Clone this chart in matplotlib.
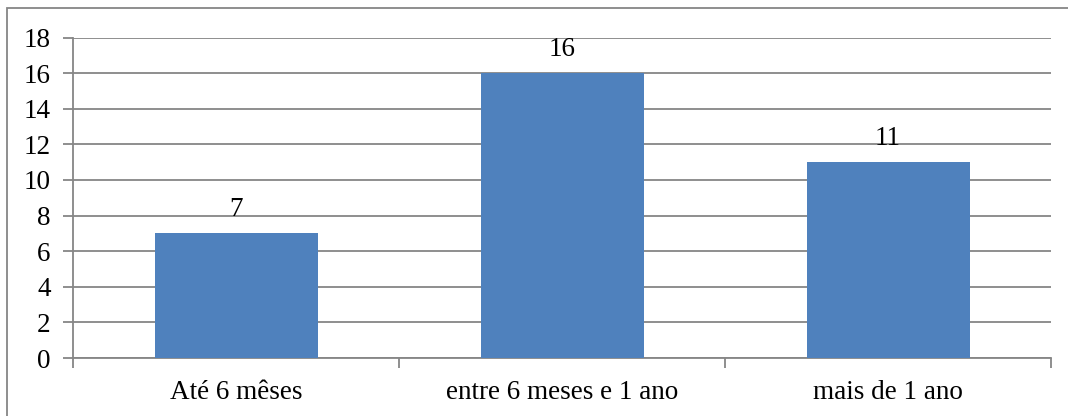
import matplotlib
matplotlib.use("Agg")
import matplotlib.pyplot as plt
from matplotlib.patches import Rectangle

categories = ["Até 6 mêses", "entre 6 meses e 1 ano", "mais de 1 ano"]
values = [7, 16, 11]
yticks = [0, 2, 4, 6, 8, 10, 12, 14, 16, 18]

W, H, DPI = 1068, 416, 100
FS = 19.5
plt.rcParams["font.family"] = ["Liberation Serif", "DejaVu Serif"]

fig = plt.figure(figsize=(W / DPI, H / DPI), dpi=DPI)
grey = "#868686"

# outer chart frame (open on the right and bottom)
fig.patches.append(Rectangle((6.5 / W, -0.1), 1.2, 1 - 7.5 / H + 0.1,
                             transform=fig.transFigure, fill=False,
                             edgecolor=grey, linewidth=1.3))

ax = fig.add_axes([73 / W, (H - 358) / H, (1051 - 73) / W, (358 - 37.5) / H])
x = range(len(categories))
ax.bar(x, values, width=0.5, color="#4F81BD", zorder=3)
for xi, v in zip(x, values):
    ax.annotate(str(v), (xi, v), xytext=(0, 8), textcoords="offset points",
                ha="center", va="bottom", fontsize=FS)

ax.set_xlim(-0.5, len(categories) - 0.5)
ax.set_ylim(0, 18)
ax.set_yticks(yticks)
ax.set_yticklabels([str(t) for t in yticks], fontsize=FS)
ax.yaxis.grid(True, color=grey, linewidth=1.3, zorder=0)
ax.tick_params(axis="y", length=7, width=1.3, color=grey, pad=9)

# category labels centred, ticks at category boundaries
ax.set_xticks([i - 0.5 for i in range(len(categories) + 1)])
ax.set_xticklabels([])
ax.set_xticks(list(x), minor=True)
ax.set_xticklabels(categories, minor=True, fontsize=FS)
ax.tick_params(axis="x", which="minor", length=0, pad=16)
ax.tick_params(axis="x", which="major", length=7, width=1.3, color=grey)

for s in ["top", "right"]:
    ax.spines[s].set_visible(False)
for s in ["left", "bottom"]:
    ax.spines[s].set_color(grey)
    ax.spines[s].set_linewidth(1.3)

fig.savefig("out.png", dpi=DPI)
